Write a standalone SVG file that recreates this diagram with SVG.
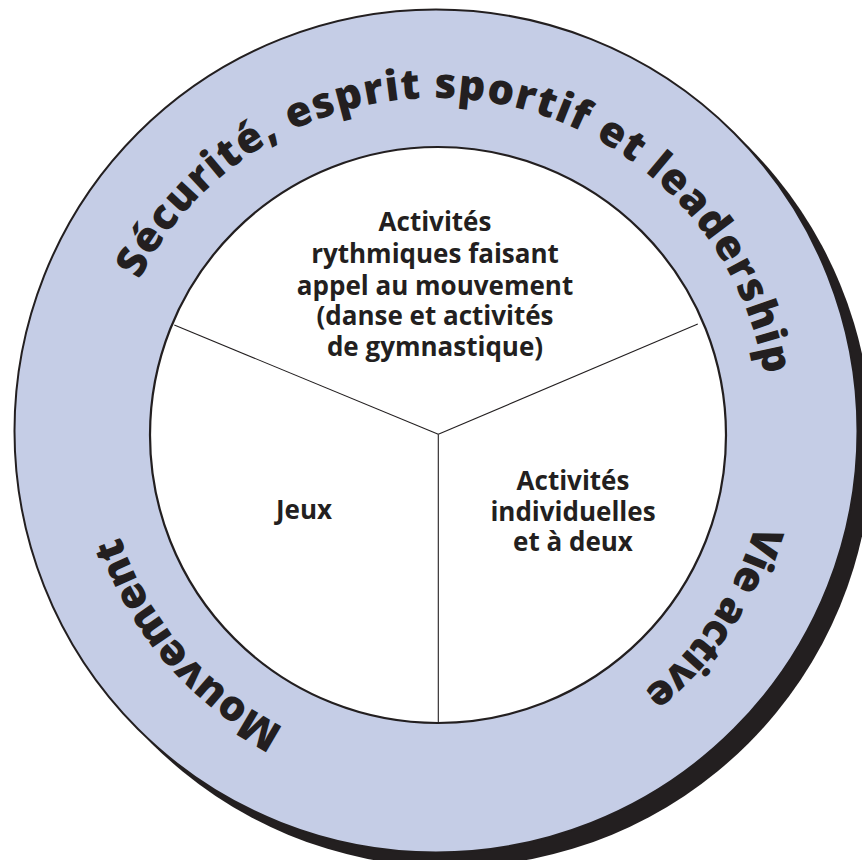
<svg xmlns="http://www.w3.org/2000/svg" width="862" height="860" viewBox="0 0 862 860">
  <style>
    .ink { fill: #231f20; }
    .ring { fill: #c5cde6; stroke: #231f20; stroke-width: 2; }
    .inner { fill: #ffffff; stroke: #231f20; stroke-width: 2.2; }
    .div { stroke: #231f20; stroke-width: 1.1; fill: none; }
    .arc { font-family: "Open Sans", "Liberation Sans", sans-serif; font-weight: 800; font-size: 42px; fill: #231f20; }
    .lbl { font-family: "Open Sans", "Liberation Sans", sans-serif; font-weight: 700; font-size: 26px; fill: #231f20; text-anchor: middle; }
  </style>
  <defs>
    <path id="textCircle" d="M 103,431 A 333,333 0 1 1 769,431 A 333,333 0 1 1 103,431" fill="none"/>
  </defs>
  <rect width="862" height="860" fill="#ffffff"/>
  <g id="shadow">
    <circle cx="450" cy="445" r="422" class="ink"/>
  </g>
  <g id="outer-ring">
    <circle cx="436" cy="431" r="421.5" class="ring"/>
  </g>
  <g id="ring-labels">
    <text class="arc" textLength="832" lengthAdjust="spacing"><textPath href="#textCircle" startOffset="157">Sécurité, esprit sportif et leadership</textPath></text>
    <text class="arc" textLength="205" lengthAdjust="spacing"><textPath href="#textCircle" startOffset="1140">Vie active</textPath></text>
    <text class="arc" textLength="258" lengthAdjust="spacing"><textPath href="#textCircle" startOffset="1726">Mouvement</textPath></text>
  </g>
  <g id="inner-circle">
    <circle cx="438" cy="435" r="288" class="inner"/>
  </g>
  <g id="connectors">
    <line x1="438.3" y1="434.3" x2="174.3" y2="325" class="div"/>
    <line x1="438.3" y1="434.3" x2="697.8" y2="324" class="div"/>
    <line x1="438.3" y1="434.3" x2="438.3" y2="723" class="div"/>
  </g>
  <g id="sector-rythmiques">
    <text class="lbl" x="435" y="231">Activités</text>
    <text class="lbl" x="435" y="263">rythmiques faisant</text>
    <text class="lbl" x="435" y="295">appel au mouvement</text>
    <text class="lbl" x="435" y="325">(danse et activités</text>
    <text class="lbl" x="435" y="356">de gymnastique)</text>
  </g>
  <g id="sector-jeux">
    <text class="lbl" x="304" y="519">Jeux</text>
  </g>
  <g id="sector-individuelles">
    <text class="lbl" x="573" y="490">Activités</text>
    <text class="lbl" x="573" y="521">individuelles</text>
    <text class="lbl" x="573" y="551">et à deux</text>
  </g>
</svg>
